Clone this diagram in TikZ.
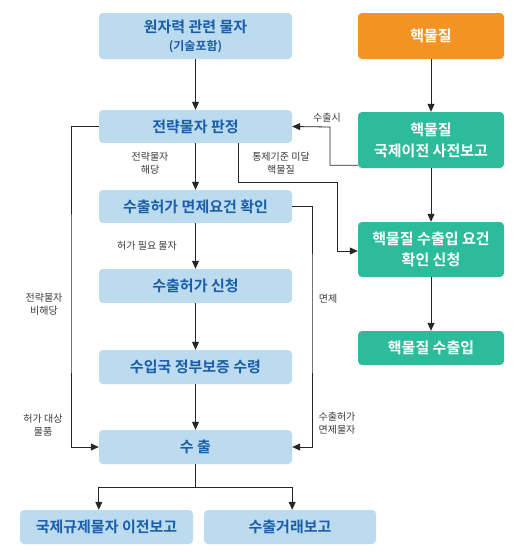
\documentclass[tikz,border=0pt]{standalone}
\usepackage{fontspec}
\setmainfont{Noto Sans CJK KR}[BoldFont={Noto Sans CJK KR Bold}]
\usetikzlibrary{arrows.meta,positioning,calc}
\definecolor{boxblue}{HTML}{BCDBEF}
\definecolor{txtblue}{HTML}{1A5EA9}
\definecolor{nucorange}{HTML}{F39422}
\definecolor{nucgreen}{HTML}{2CBB9B}
\definecolor{lblgray}{HTML}{3A3A3A}

\begin{document}
\begin{tikzpicture}[x=1pt,y=-1pt,
  >={Triangle[length=8pt,width=7pt]},
  conn/.style={draw=black!85, line width=0.8pt},
  bluebox/.style={fill=boxblue, rounded corners=4pt, text=txtblue, font=\fontsize{15}{21}\selectfont\bfseries, align=center, minimum width=193pt, minimum height=34pt, inner sep=0pt},
  greenbox/.style={bluebox, fill=nucgreen, text=white, minimum width=146pt},
  orangebox/.style={greenbox, fill=nucorange},
  lbl/.style={text=lblgray, font=\fontsize{10}{13}\selectfont, align=center, inner sep=0pt}]
\useasboundingbox (0,0) rectangle (515,552);

\node[bluebox, minimum height=46pt] (src) at (195.5,36) {원자력 관련 물자\\[-3pt]{\fontsize{12}{14}\selectfont (기술포함)}};
\node[orangebox, minimum height=46pt] (nuc) at (431,36) {핵물질};
\node[bluebox, minimum height=33pt] (judge) at (195.5,126.5) {전략물자 판정};
\node[greenbox, minimum height=56pt] (prerep) at (431,140) {핵물질\\국제이전 사전보고};
\node[bluebox, minimum height=33pt] (exempt) at (195.5,206.5) {수출허가 면제요건 확인};
\node[greenbox, minimum height=55pt] (nucreq) at (431,249.5) {핵물질 수출입 요건\\확인 신청};
\node[bluebox] (apply) at (195.5,286) {수출허가 신청};
\node[greenbox] (nucimp) at (431,348) {핵물질 수출입};
\node[bluebox] (assure) at (195.5,367) {수입국 정부보증 수령};
\node[bluebox] (export) at (195.5,447) {수 출};
\node[bluebox, minimum width=173pt] (rep1) at (106.5,527) {국제규제물자 이전보고};
\node[bluebox, minimum width=172pt] (rep2) at (290,527) {수출거래보고};

\node[lbl] (l1) at (327,118) {수출시};
\node[lbl] (l2) at (150,163) {전략물자\\해당};
\node[lbl] (l3) at (281,163) {통제기준 미달\\핵물질};
\node[lbl] (l4) at (147,246) {허가 필요 물자};
\node[lbl] (l5) at (44,304) {전략물자\\비해당};
\node[lbl] (l6) at (328,299) {면제};
\node[lbl] (l7) at (43,425) {허가 대상\\물품};
\node[lbl] (l8) at (337,423) {수출허가\\면제물자};

\coordinate (split) at (195.5,487);

\draw[conn,->] (src) -- (judge);
\draw[conn,->] (nuc) -- (prerep);
\draw[conn,->] (prerep) -- (nucreq);
\draw[conn,->] (nucreq) -- (nucimp);
\draw[conn,->] ([yshift=3pt]prerep.south west) -| (330,127) -- (judge.east);
\draw[conn,->] (judge) -- (exempt);
\draw[conn,->] (judge.south -| 238,0) |- (337,182) |- ([yshift=-1.5pt]nucreq.west);
\draw[conn,->] (judge.west) -| (71,300) |- (export.west);
\draw[conn,->] (exempt.east) -| (312,300) |- (export.east);
\draw[conn,->] (exempt) -- (apply);
\draw[conn,->] (apply) -- (assure);
\draw[conn,->] (assure) -- (export);
\draw[conn] (export) -- (split);
\draw[conn,->] (split) -| (export.west |- rep1.north);
\draw[conn,->] (split) -| (export.east |- rep2.north);
\end{tikzpicture}
\end{document}
